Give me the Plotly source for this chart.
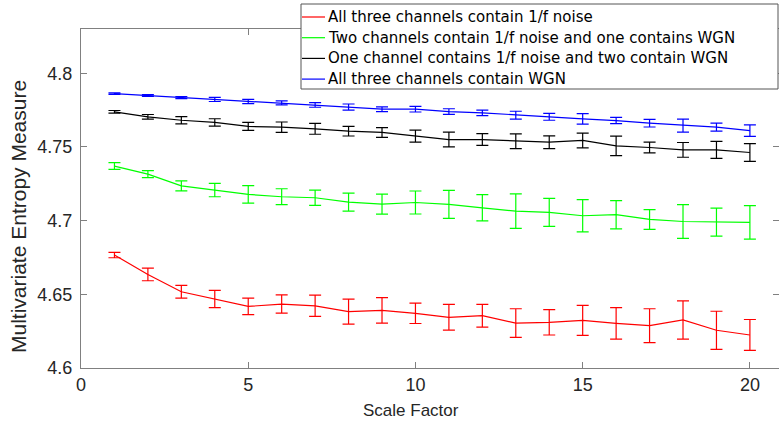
import plotly.graph_objects as go

# Scale factors 1..20
scale = list(range(1, 21))

# Mean multivariate entropy per scale factor and its standard deviation
red_mean = [4.6766, 4.6635, 4.6517, 4.6468, 4.6418, 4.6434, 4.6422, 4.6382, 4.6391, 4.6371,
            4.6344, 4.6355, 4.6305, 4.6310, 4.6323, 4.6303, 4.6287, 4.6326, 4.6256, 4.6224]
red_err = [0.0018, 0.0043, 0.0043, 0.0059, 0.0056, 0.0062, 0.0072, 0.0085, 0.0086, 0.0069,
           0.0087, 0.0077, 0.0097, 0.0086, 0.0102, 0.0107, 0.0115, 0.0130, 0.0129, 0.0105]

green_mean = [4.7370, 4.7315, 4.7236, 4.7207, 4.7178, 4.7162, 4.7155, 4.7125, 4.7112, 4.7123,
              4.7110, 4.7087, 4.7064, 4.7056, 4.7033, 4.7040, 4.7008, 4.6994, 4.6990, 4.6988]
green_err = [0.0023, 0.0024, 0.0034, 0.0045, 0.0060, 0.0054, 0.0052, 0.0061, 0.0068, 0.0078,
             0.0095, 0.0089, 0.0117, 0.0095, 0.0110, 0.0096, 0.0067, 0.0115, 0.0095, 0.0114]

black_mean = [4.7738, 4.7704, 4.7681, 4.7666, 4.7639, 4.7634, 4.7623, 4.7607, 4.7598, 4.7573,
              4.7550, 4.7550, 4.7539, 4.7532, 4.7544, 4.7507, 4.7496, 4.7480, 4.7480, 4.7462]
black_err = [0.0009, 0.0016, 0.0025, 0.0025, 0.0027, 0.0035, 0.0037, 0.0033, 0.0033, 0.0041,
             0.0050, 0.0040, 0.0050, 0.0043, 0.0050, 0.0066, 0.0036, 0.0050, 0.0058, 0.0060]

blue_mean = [4.7862, 4.7849, 4.7835, 4.7822, 4.7808, 4.7799, 4.7785, 4.7770, 4.7756, 4.7756,
             4.7740, 4.7731, 4.7715, 4.7704, 4.7690, 4.7679, 4.7661, 4.7645, 4.7634, 4.7611]
blue_err = [0.0005, 0.0006, 0.0007, 0.0014, 0.0014, 0.0014, 0.0016, 0.0021, 0.0016, 0.0019,
            0.0019, 0.0019, 0.0027, 0.0023, 0.0036, 0.0021, 0.0026, 0.0044, 0.0027, 0.0039]

series = [
    ("All three channels contain 1/f noise", red_mean, red_err, "#ff0000"),
    ("Two channels contain 1/f noise and one contains WGN", green_mean, green_err, "#00ff00"),
    ("One channel contains 1/f noise and two contain WGN", black_mean, black_err, "#000000"),
    ("All three channels contain WGN", blue_mean, blue_err, "#0000ff"),
]

FONT = "Liberation Sans, Arial, Helvetica, sans-serif"
LEGEND_FONT = "DejaVu Sans, Liberation Sans, sans-serif"
AXC = "#262626"

# plot area in pixels
L, R, T, B = 81, 779, 29, 368
PW, PH = R - L, B - T


def px(x):
    return (x - L) / PW


def py(y):
    return (B - y) / PH


fig = go.Figure()
for name, mean, err, color in series:
    fig.add_trace(go.Scatter(
        x=scale, y=mean, name=name, mode="lines", showlegend=False,
        line=dict(color=color, width=1.2),
        error_y=dict(type="data", array=err, visible=True,
                     color=color, thickness=1.2, width=6),
    ))

axis_common = dict(
    showgrid=False, zeroline=False, showline=True, linecolor="#808080", linewidth=1,
    mirror="ticks", ticks="inside", ticklen=6, tickcolor="#808080", tickwidth=1,
    tickfont=dict(family=FONT, size=18, color=AXC),
)

fig.update_layout(
    width=779, height=426,
    margin=dict(l=L, r=779 - R, t=T, b=426 - B),
    paper_bgcolor="white", plot_bgcolor="white",
    xaxis=dict(range=[0, 20.87], tickvals=[0, 5, 10, 15, 20], **axis_common),
    yaxis=dict(range=[4.6, 4.83], tickvals=[4.6, 4.65, 4.7, 4.75, 4.8],
               ticktext=["4.6", "4.65", "4.7", "4.75", "4.8"],
               ticklabelstandoff=4, **axis_common),
)

# legend box with one short line sample and label per series
fig.add_shape(type="rect", xref="paper", yref="paper",
              x0=px(301), x1=px(778), y0=py(89), y1=py(4),
              line=dict(color="#555555", width=1), fillcolor="white", layer="above")
row_y = [17, 37.7, 58.4, 79.1]
for (name, _, _, color), ry in zip(series, row_y):
    fig.add_shape(type="line", xref="paper", yref="paper",
                  x0=px(302), x1=px(325), y0=py(ry), y1=py(ry),
                  line=dict(color=color, width=1.2), layer="above")
    fig.add_annotation(text=name, xref="paper", yref="paper",
                       x=px(326), y=py(ry), xanchor="left", yanchor="middle",
                       showarrow=False,
                       font=dict(family=LEGEND_FONT, size=15, color="#000000"))

fig.add_annotation(text="Scale Factor", xref="paper", yref="paper",
                   x=px(411), y=py(410),
                   xanchor="center", yanchor="middle", showarrow=False,
                   font=dict(family=FONT, size=17, color=AXC))
fig.add_annotation(text="Multivariate Entropy Measure", xref="paper", yref="paper",
                   x=px(18), y=py(217),
                   textangle=-90, showarrow=False, xanchor="center", yanchor="middle",
                   font=dict(family=FONT, size=21, color=AXC))

fig.write_html("out.html")
